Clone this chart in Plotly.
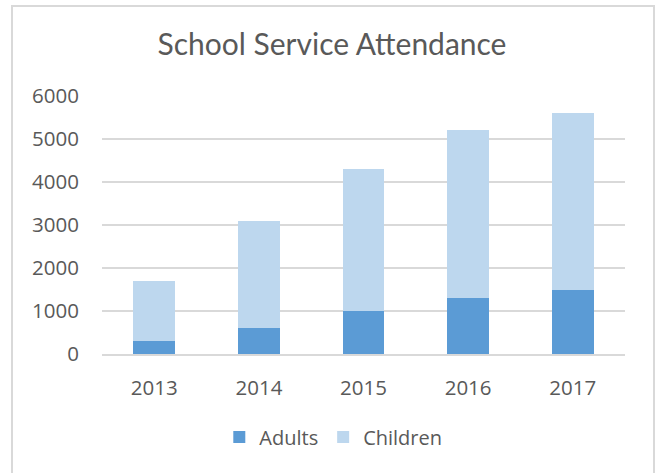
import plotly.graph_objects as go

years = ["2013", "2014", "2015", "2016", "2017"]
adults = [300, 600, 1000, 1300, 1500]
children = [1400, 2500, 3300, 3900, 4100]

W, H = 660, 473
ML, MR, MT, MB = 102, 35, 96, 119
pw, ph = W - ML - MR, H - MT - MB

text_color = "#595959"
grid_color = "#D9D9D9"

fig = go.Figure()
fig.add_trace(go.Bar(name="Adults", x=years, y=adults,
                     marker=dict(color="#5B9BD5", line=dict(width=0))))
fig.add_trace(go.Bar(name="Children", x=years, y=children,
                     marker=dict(color="#BDD7EE", line=dict(width=0))))


def px_x(p):
    return (p - ML) / pw


def px_y(p):
    return (H - MB - p) / ph


fig.update_layout(
    width=W, height=H,
    margin=dict(l=ML, r=MR, t=MT, b=MB),
    barmode="stack",
    bargap=0.6,
    paper_bgcolor="white",
    plot_bgcolor="white",
    font=dict(family="Open Sans", size=20, color=text_color),
    title=dict(text="School Service Attendance",
               font=dict(family="Lato", size=30, color=text_color),
               x=0.503, xref="container", xanchor="center",
               y=1 - 44 / H, yref="container", yanchor="middle"),
    legend=dict(orientation="h", xref="container", yref="container",
                x=0.505, xanchor="center", y=1 - 437 / H, yanchor="middle",
                font=dict(size=20, color=text_color), itemwidth=30,
                traceorder="normal"),
    xaxis=dict(showgrid=False, showline=True, linecolor=grid_color, linewidth=2,
               ticks="", ticklabelstandoff=14,
               tickfont=dict(size=20.5, color=text_color)),
    yaxis=dict(range=[0, 6000], dtick=1000, showgrid=True,
               gridcolor=grid_color, gridwidth=2, zeroline=False,
               showline=False, ticks="", ticklabelstandoff=22,
               tickfont=dict(size=20.5, color=text_color)),
    shapes=[dict(type="rect", xref="paper", yref="paper",
                 x0=px_x(12), x1=px_x(654), y0=px_y(490), y1=px_y(6),
                 line=dict(color=grid_color, width=2), layer="below")],
)

fig.write_html("out.html")
